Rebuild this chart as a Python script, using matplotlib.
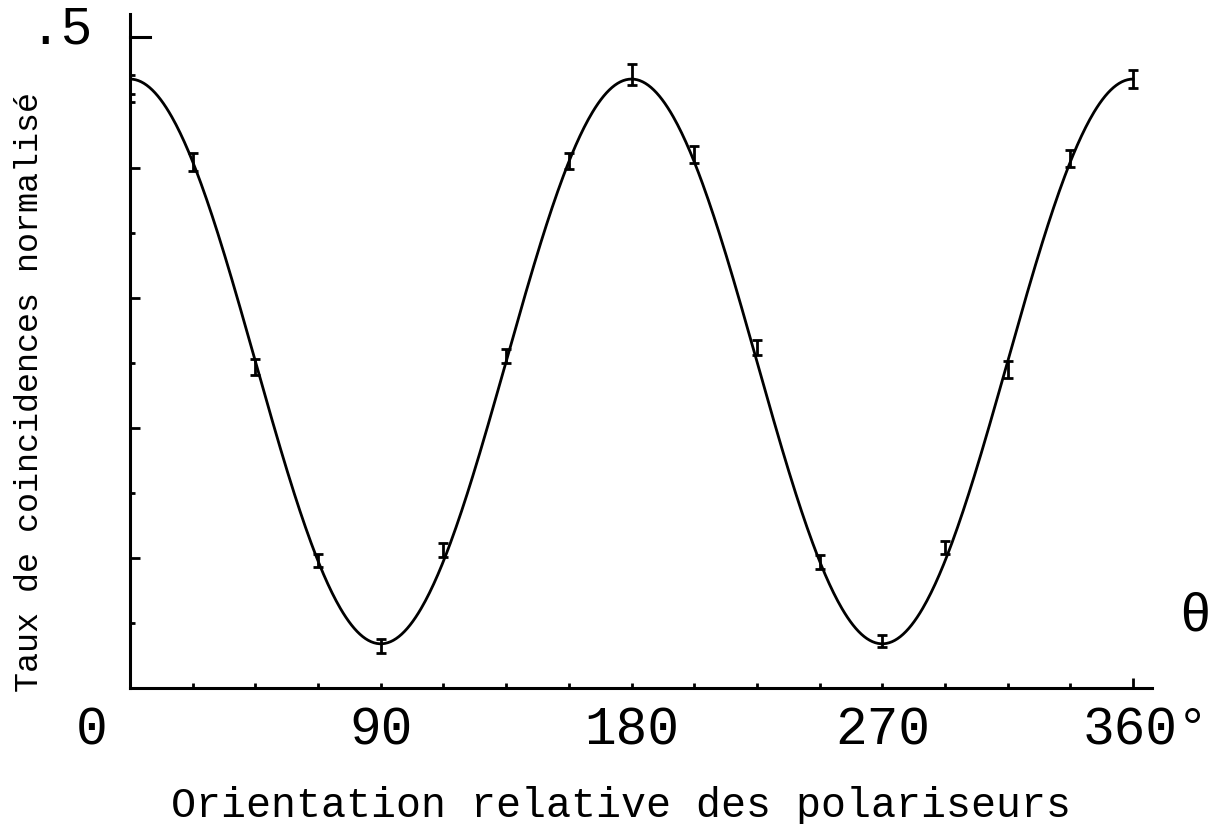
import numpy as np
import matplotlib.pyplot as plt
import matplotlib.transforms as mtransforms
from matplotlib.ticker import MultipleLocator, FixedLocator

# Mesures : angle entre polariseurs (degres) et taux de coincidences normalise
angles = [0, 22.5, 45, 67.5, 90, 112.5, 135, 157.5, 180,
          202.5, 225, 247.5, 270, 292.5, 315, 337.5, 360]
rates = [0.464, 0.404, 0.247, 0.098, 0.032, 0.106, 0.255, 0.405, 0.4715,
         0.410, 0.262, 0.097, 0.036, 0.108, 0.245, 0.407, 0.468]
errors = [0.0075, 0.0068, 0.0062, 0.0050, 0.0054, 0.0052, 0.0055, 0.0062, 0.0077,
          0.0065, 0.0058, 0.0054, 0.0046, 0.0050, 0.0065, 0.0068, 0.0068]

# Prediction : R = moyenne + amplitude * cos(2 theta)
fit_mean = 0.251
fit_amplitude = 0.217

tick_angles = [0, 90, 180, 270, 360]
tick_labels = ['0', '90', '180', '270', '360°']
label_shift_px = [-38, 0, 0, 0, 13]

FONT = ['Liberation Mono', 'DejaVu Sans Mono']

fig = plt.figure(figsize=(12.22, 8.24), dpi=100)
ax = fig.add_axes([0.1064, 0.165, 0.8363, 0.818])

theta = np.linspace(0, 360, 721)
ax.plot(theta, fit_mean + fit_amplitude * np.cos(np.radians(2 * theta)),
        color='black', lw=2.0)
ax.errorbar(angles, rates, yerr=errors, fmt='none', ecolor='black',
            elinewidth=2.0, capsize=3.6, capthick=2.0)

ax.set_xlim(0, 366.8)
ax.set_ylim(0, 0.518)
for side in ('top', 'right'):
    ax.spines[side].set_visible(False)
for side in ('left', 'bottom'):
    ax.spines[side].set_linewidth(2.2)

# graduations vers l'interieur, sans etiquettes automatiques
ax.yaxis.set_major_locator(FixedLocator([0.1, 0.2, 0.3, 0.4]))
ax.yaxis.set_minor_locator(FixedLocator([0.05, 0.15, 0.25, 0.35, 0.45]))
ax.xaxis.set_major_locator(FixedLocator([360]))
ax.xaxis.set_minor_locator(MultipleLocator(22.5))
ax.tick_params(axis='y', which='major', direction='in', length=7, width=2)
ax.tick_params(axis='y', which='minor', direction='in', length=3.5, width=2)
ax.tick_params(axis='x', which='major', direction='in', length=7, width=2)
ax.tick_params(axis='x', which='minor', direction='in', length=3.5, width=2)
ax.set_xticklabels([])
ax.set_yticklabels([])
ax.plot([0, 7], [0.5, 0.5], color='black', lw=2.2, clip_on=False)

xform = ax.get_xaxis_transform()
for ang, lab, dx in zip(tick_angles, tick_labels, label_shift_px):
    off = mtransforms.ScaledTranslation(dx / 100, 0, fig.dpi_scale_trans)
    ax.text(ang, -0.0623, lab, transform=xform + off, ha='center', va='center',
            fontsize=38, family=FONT)

fig.text(0.0753, 0.9636, '.5', ha='right', va='center', fontsize=38, family=FONT)
fig.text(0.978, 0.2524, 'θ', ha='center', va='center', fontsize=38, family=FONT)

fig.text(0.508, 0.0085, 'Orientation relative des polariseurs',
         ha='center', va='baseline', fontsize=30, family=FONT)
fig.text(0.0245, 0.524, 'Taux de coincidences normalisé', rotation=90,
         ha='center', va='center', fontsize=24, family=FONT)

fig.savefig('out.png', dpi=100, facecolor='white')
